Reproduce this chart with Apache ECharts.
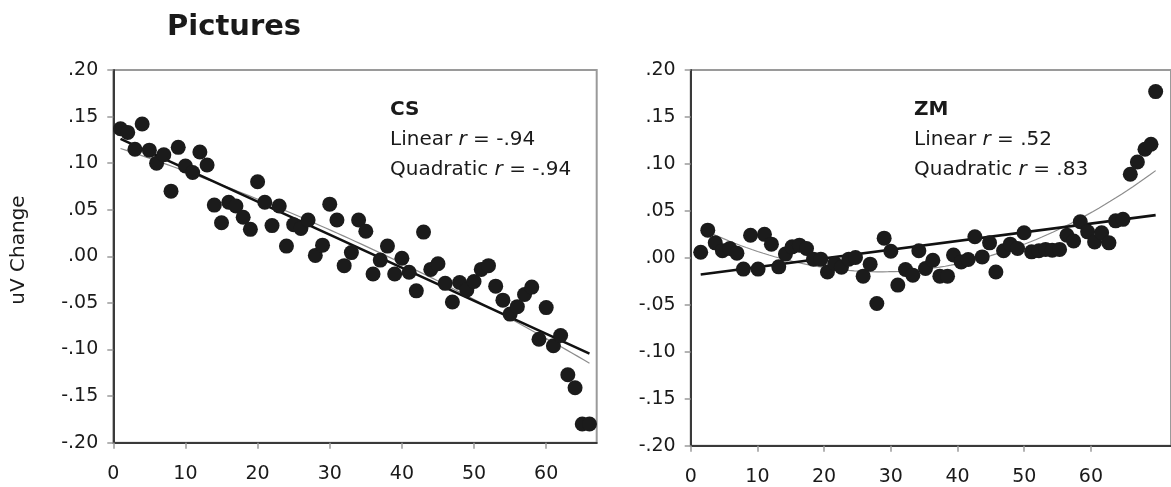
<!DOCTYPE html>
<html>
<head>
<meta charset="utf-8">
<script src="https://cdn.jsdelivr.net/npm/echarts@6/dist/echarts.min.js"></script>
<style>
  html, body { margin: 0; padding: 0; background: #fff; }
  #chart { width: 1171px; height: 487px; }
</style>
</head>
<body>
<div id="chart"></div>
<script>
// CS panel: trial number and uV change
const csTrial = [1, 2, 3, 4, 5, 6, 7, 8, 9, 10, 11, 12, 13, 14, 15, 16, 17, 18, 19, 20,
  21, 22, 23, 24, 25, 26, 27, 28, 29, 30, 31, 32, 33, 34, 35, 36, 37, 38, 39, 40,
  41, 42, 43, 44, 45, 46, 47, 48, 49, 50, 51, 52, 53, 54, 55, 56, 57, 58, 59, 60,
  61, 62, 63, 64, 65, 66]
const csChange = [0.137, 0.133, 0.115, 0.142, 0.114, 0.100, 0.109, 0.070, 0.117, 0.097,
  0.090, 0.112, 0.098, 0.055, 0.036, 0.058, 0.054, 0.042, 0.029, 0.080,
  0.058, 0.033, 0.054, 0.011, 0.034, 0.030, 0.039, 0.001, 0.012, 0.056,
  0.039, -0.010, 0.004, 0.039, 0.027, -0.019, -0.004, 0.011, -0.019, -0.002,
  -0.017, -0.037, 0.026, -0.014, -0.008, -0.029, -0.049, -0.028, -0.036, -0.027,
  -0.014, -0.010, -0.032, -0.047, -0.062, -0.054, -0.041, -0.033, -0.089, -0.055,
  -0.096, -0.085, -0.127, -0.141, -0.180, -0.180]

// ZM panel (points sit a little off the tick grid in the original)
const zmTrial = [1.5, 2.56, 3.68, 4.75, 5.86, 6.93, 7.9, 8.97, 10.1, 11.06,
  12.1, 13.2, 14.2, 15.2, 16.3, 17.36, 18.4, 19.5, 20.5, 21.6,
  22.6, 23.7, 24.7, 25.85, 26.9, 27.9, 29.0, 30.0, 31.05, 32.2,
  33.3, 34.2, 35.2, 36.3, 37.35, 38.5, 39.4, 40.55, 41.6, 42.6,
  43.7, 44.8, 45.75, 46.9, 47.9, 49.0, 49.97, 51.1, 52.2, 53.2,
  54.2, 55.3, 56.4, 57.4, 58.4, 59.5, 60.55, 61.6, 62.7, 63.7,
  64.8, 65.9, 66.96, 68.1, 69.0, 69.7]
const zmChange = [0.006, 0.0295, 0.016, 0.0075, 0.010, 0.005, -0.012, 0.024, -0.012, 0.025,
  0.0146, -0.0096, 0.004, 0.0117, 0.0135, 0.010, -0.0014, -0.0014, -0.015, -0.006,
  -0.010, -0.0014, 0.0004, -0.0195, -0.0067, -0.0486, 0.021, 0.007, -0.029, -0.0124,
  -0.0184, 0.0075, -0.0113, -0.0025, -0.0195, -0.0195, 0.003, -0.0043, -0.0017, 0.0224,
  0.001, 0.016, -0.015, 0.0075, 0.0146, 0.010, 0.0267, 0.0064, 0.0075, 0.009,
  0.0082, 0.009, 0.024, 0.018, 0.0384, 0.0277, 0.017, 0.0267, 0.016, 0.0394,
  0.041, 0.089, 0.102, 0.1156, 0.121, 0.177]

const xTicks = [0, 10, 20, 30, 40, 50, 60]
const panels = [
  { name: 'CS', lin: '-.94', quad: '-.94' },
  { name: 'ZM', lin: '.52', quad: '.83' },
]

const FONT = 'DejaVu Sans'

// least squares fits from the points
function linFit(xs, ys) {
  const n = xs.length
  let sx = 0, sy = 0, sxx = 0, sxy = 0
  for (let i = 0; i < n; i++) {
    sx += xs[i]; sy += ys[i]; sxx += xs[i] * xs[i]; sxy += xs[i] * ys[i]
  }
  const b = (n * sxy - sx * sy) / (n * sxx - sx * sx)
  const a = (sy - b * sx) / n
  return x => a + b * x
}
function quadFit(xs, ys) {
  const S = [0, 0, 0, 0, 0], T = [0, 0, 0]
  for (let i = 0; i < xs.length; i++) {
    let p = 1
    for (let k = 0; k < 5; k++) { S[k] += p; if (k < 3) T[k] += p * ys[i]; p *= xs[i] }
  }
  // gaussian elimination on 3x3 normal equations
  const M = [[S[0], S[1], S[2], T[0]], [S[1], S[2], S[3], T[1]], [S[2], S[3], S[4], T[2]]]
  for (let c = 0; c < 3; c++) {
    for (let r = c + 1; r < 3; r++) {
      const f = M[r][c] / M[c][c]
      for (let k = c; k < 4; k++) M[r][k] -= f * M[c][k]
    }
  }
  const co = [0, 0, 0]
  for (let r = 2; r >= 0; r--) {
    let s = M[r][3]
    for (let k = r + 1; k < 3; k++) s -= M[r][k] * co[k]
    co[r] = s / M[r][r]
  }
  return x => co[0] + co[1] * x + co[2] * x * x
}
function fitLine(xs, fn, steps) {
  const lo = Math.min(...xs), hi = Math.max(...xs)
  const out = []
  for (let i = 0; i <= steps; i++) {
    const x = lo + (hi - lo) * i / steps
    out.push([x, fn(x)])
  }
  return out
}

const sets = [[csTrial, csChange], [zmTrial, zmChange]]

const grids = [
  { left: 113.3, top: 70, width: 483.4, height: 372.7 },
  { left: 690.7, top: 70, width: 494.4, height: 375.7 },
]

const xAxes = [67, 72].map((mx, i) => ({
  gridIndex: i,
  type: 'value',
  min: 0,
  max: mx,
  axisLine: { show: true, onZero: false, lineStyle: { color: '#3a3a3a', width: 2 } },
  axisTick: { show: true, length: 6, customValues: xTicks, lineStyle: { color: '#9a9a9a', width: 1.5 } },
  axisLabel: { customValues: xTicks, margin: 22, fontSize: 19, fontFamily: FONT, color: '#1a1a1a' },
  splitLine: { show: false },
}))

const yAxes = [0, 1].map(i => ({
  gridIndex: i,
  type: 'value',
  min: -0.2,
  max: 0.2,
  interval: 0.05,
  axisLine: { show: true, onZero: false, lineStyle: { color: '#3a3a3a', width: 2 } },
  axisTick: { show: true, length: 6, lineStyle: { color: '#9a9a9a', width: 1.5 } },
  axisLabel: {
    margin: 15,
    fontSize: 19,
    fontFamily: FONT,
    color: '#1a1a1a',
    formatter: v => {
      const s = Math.abs(v).toFixed(2).replace(/^0/, '')
      return (v < -1e-9 ? '-' : '') + s
    },
  },
  splitLine: { show: false },
}))

const series = []
sets.forEach(([xs, ys], i) => {
  series.push({
    type: 'line',
    xAxisIndex: i, yAxisIndex: i,
    data: fitLine(xs, quadFit(xs, ys), 80),
    showSymbol: false,
    lineStyle: { color: '#8c8c8c', width: 1.2 },
    z: 2,
  })
  series.push({
    type: 'line',
    xAxisIndex: i, yAxisIndex: i,
    data: fitLine(xs, linFit(xs, ys), 1),
    showSymbol: false,
    lineStyle: { color: '#111', width: 2.6 },
    z: 3,
  })
  series.push({
    type: 'scatter',
    xAxisIndex: i, yAxisIndex: i,
    data: xs.map((x, k) => [x, ys[k]]),
    symbolSize: 15,
    itemStyle: { color: '#1b1b1b', opacity: 1 },
    z: 4,
  })
})

// annotations
const graphic = [
  {
    type: 'text', left: 167, top: 13,
    style: { text: 'Pictures', font: 'bold 29px "DejaVu Sans"', fill: '#1a1a1a' },
  },
  {
    type: 'text', x: 19, y: 250, rotation: Math.PI / 2,
    style: { text: 'uV Change', font: '20px "DejaVu Sans"', fill: '#1a1a1a', align: 'center', verticalAlign: 'middle' },
  },
]
const annX = [390, 914]
panels.forEach((p, i) => {
  graphic.push({
    type: 'text', x: annX[i], y: 109.4,
    style: { text: p.name, font: 'bold 20px "DejaVu Sans"', fill: '#1a1a1a', verticalAlign: 'middle' },
  })
  graphic.push({
    type: 'text', x: annX[i], y: 140,
    style: {
      text: 'Linear {i|r} = ' + p.lin,
      font: '20px "DejaVu Sans"', fill: '#1a1a1a', verticalAlign: 'middle',
      rich: { i: { fontStyle: 'italic', fontSize: 20, fontFamily: FONT } },
    },
  })
  graphic.push({
    type: 'text', x: annX[i], y: 170,
    style: {
      text: 'Quadratic {i|r} = ' + p.quad,
      font: '20px "DejaVu Sans"', fill: '#1a1a1a', verticalAlign: 'middle',
      rich: { i: { fontStyle: 'italic', fontSize: 20, fontFamily: FONT } },
    },
  })
})

const option = {
  animation: false,
  backgroundColor: '#fff',
  grid: grids.map(g => Object.assign({ show: true, borderColor: '#9a9a9a', borderWidth: 2, backgroundColor: 'transparent' }, g)),
  xAxis: xAxes,
  yAxis: yAxes,
  series: series,
  graphic: graphic,
}

const myChart = echarts.init(document.getElementById('chart'))
myChart.setOption(option)
</script>
</body>
</html>
